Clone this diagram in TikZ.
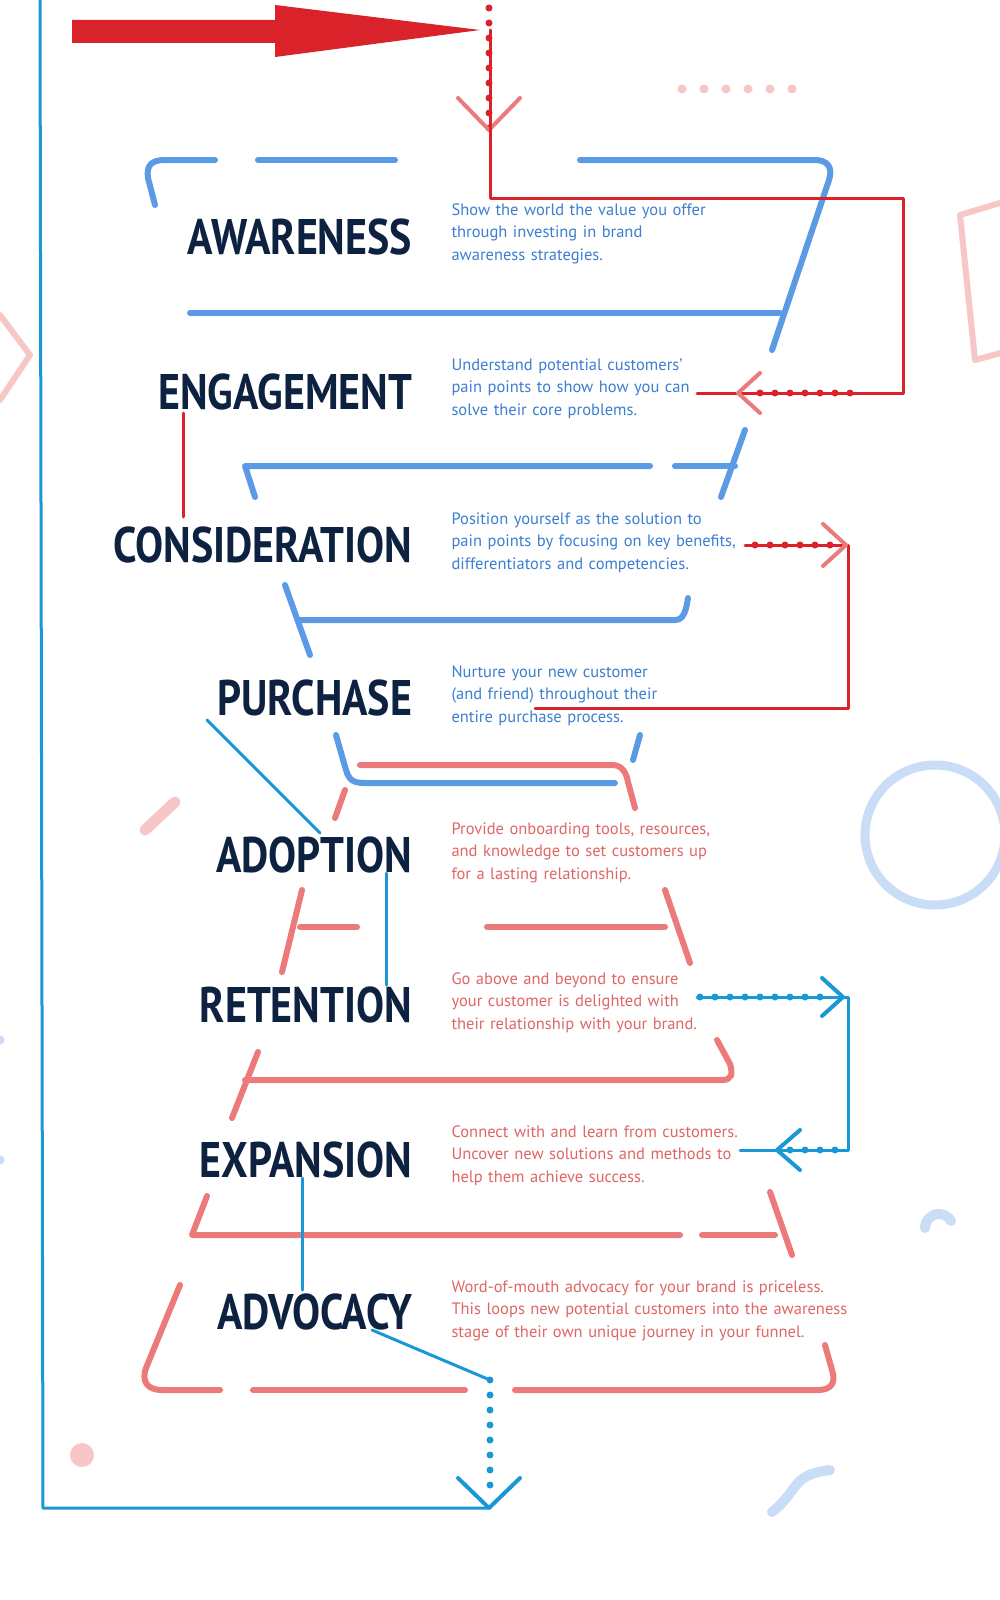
\documentclass[tikz,border=0pt]{standalone}
\usepackage{fontspec}
\setmainfont{PT Sans}
\begin{document}
\begin{tikzpicture}[x=1pt,y=-1pt,line cap=round,line join=round,
 fb/.style={draw=funB,line width=6pt},
 fr/.style={draw=funR,line width=6pt},
 cy/.style={draw=cyanL,line width=3pt},
 rd/.style={draw=redL,line width=3pt},
 dotsc/.style={draw=cyanL,line width=7pt,dash pattern=on 0pt off 15pt},
 dotsr/.style={draw=redL,line width=7pt,dash pattern=on 0pt off 15pt},
 ttl/.style={anchor=east,text=navy,font=\bfseries\fontsize{50}{50}\selectfont,xscale=0.84},
 dsc/.style={anchor=north west,align=left,font=\fontsize{16.5}{22.5}\selectfont,text width=540pt}]
\definecolor{funB}{HTML}{5B9BE6}
\definecolor{funR}{HTML}{EC7A7A}
\definecolor{cyanL}{HTML}{1A98D5}
\definecolor{redL}{HTML}{D9222A}
\definecolor{navy}{HTML}{0D2240}
\definecolor{txB}{HTML}{3C7FD0}
\definecolor{txR}{HTML}{E06666}
\definecolor{pinkD}{HTML}{F7C6C6}
\definecolor{blueD}{HTML}{C9DDF7}
\useasboundingbox[fill=white] (0,0) rectangle (999,1600);
% decorations
\foreach \x in {682,704,726,748,770,792} \fill[pinkD] (\x,89) circle (4.5);
\draw[pinkD,line width=6pt] (960,215) -- (1010,200) -- (1030,345) -- (975,360) -- cycle;
\draw[pinkD,line width=6pt] (0,315) -- (30,355) -- (0,400);
\draw[pinkD,line width=11pt] (145,830) -- (175,802);
\draw[blueD,line width=9pt] (935,835) circle (70);
\draw[blueD,line width=9pt] (0,1040) arc (-90:90:-45 and 60);
\fill[pinkD] (82,1455) circle (12);
\draw[blueD,line width=10pt] (925,1228) arc (180:330:14);
\draw[blueD,line width=10pt] (772,1512) .. controls (800,1490) and (790,1475) .. (830,1470);
% big cyan loop
\coordinate (lt) at (40,0);
\coordinate (lb) at (43,1508);
\coordinate (bb) at (490,1508);
\draw[cy] (lt) -- (lb) -- (bb);
% blue funnel
\draw[fb] (155,205) -- (148,178) .. controls (146,165) and (152,160) .. (165,160) -- (215,160);
\draw[fb] (258,160) -- (395,160);
\draw[fb] (580,160) -- (815,160) .. controls (828,160) and (833,168) .. (829,180) -- (772,350);
\draw[fb] (190,313) -- (780,313);
\draw[fb] (745,430) -- (721,497);
\draw[fb] (255,497) -- (245,466) -- (650,466);
\draw[fb] (675,466) -- (735,466);
\draw[fb] (285,585) -- (310,655);
\draw[fb] (300,620) -- (675,620) .. controls (683,620) and (686,612) .. (688,598);
\draw[fb] (336,735) -- (346,770) .. controls (349,780) and (353,783) .. (365,783) -- (615,783);
\draw[fb] (640,735) -- (633,760);
% red funnel
\draw[fr] (360,765) -- (612,765) .. controls (622,765) and (626,772) .. (628,782) -- (635,808);
\draw[fr] (345,790) -- (335,818);
\draw[fr] (302,890) -- (282,972);
\draw[fr] (300,927) -- (357,927);
\draw[fr] (487,927) -- (665,927);
\draw[fr] (665,890) -- (690,963);
\draw[fr] (232,1118) -- (258,1052);
\draw[fr] (245,1080) -- (722,1080) .. controls (732,1080) and (733,1074) .. (730,1064) -- (717,1040);
\draw[fr] (207,1196) -- (192,1235) -- (680,1235);
\draw[fr] (702,1235) -- (775,1235);
\draw[fr] (770,1192) -- (792,1255);
\draw[fr] (180,1285) -- (146,1368) .. controls (141,1382) and (148,1390) .. (162,1390) -- (220,1390);
\draw[fr] (253,1390) -- (465,1390);
\draw[fr] (515,1390) -- (818,1390) .. controls (832,1390) and (836,1382) .. (832,1370) -- (825,1345);
% titles
\node[ttl] (aw) at (415,237) {AWARENESS};
\node[ttl] (en) at (415,392) {ENGAGEMENT};
\node[ttl] (co) at (415,545) {CONSIDERATION};
\node[ttl] (pu) at (415,698) {PURCHASE};
\node[ttl] (ad) at (415,855) {ADOPTION};
\node[ttl] (re) at (415,1005) {RETENTION};
\node[ttl] (ex) at (415,1160) {EXPANSION};
\node[ttl] (av) at (415,1312) {ADVOCACY};
% descriptions
\node[dsc,text=txB] (d1) at (448,200) {Show the world the value you offer\\through investing in brand\\awareness strategies.};
\node[dsc,text=txB] (d2) at (448,355) {Understand potential customers'\\pain points to show how you can\\solve their core problems.};
\node[dsc,text=txB] (d3) at (448,509) {Position yourself as the solution to\\pain points by focusing on key benefits,\\differentiators and competencies.};
\node[dsc,text=txB] (d4) at (448,662) {Nurture your new customer\\(and friend) throughout their\\entire purchase process.};
\node[dsc,text=txR] (d5) at (448,819) {Provide onboarding tools, resources,\\and knowledge to set customers up\\for a lasting relationship.};
\node[dsc,text=txR] (d6) at (448,969) {Go above and beyond to ensure\\your customer is delighted with\\their relationship with your brand.};
\node[dsc,text=txR] (d7) at (448,1122) {Connect with and learn from customers.\\Uncover new solutions and methods to\\help them achieve success.};
\node[dsc,text=txR] (d8) at (448,1277) {Word-of-mouth advocacy for your brand is priceless.\\This loops new potential customers into the awareness\\stage of their own unique journey in your funnel.};
% red arrow
\fill[redL] (72,20) -- (275,20) -- (275,5) -- (480,30) -- (275,57) -- (275,43) -- (72,43) -- cycle;
\coordinate (r0) at (489,8);
\coordinate (r1) at (489,130);
\draw[dotsr] (r0) -- (r1);
\draw[draw=funR,line width=4pt] (458,98) -- (489,130) -- (520,98);
\coordinate (r2) at (490,30);
\coordinate (r3) at (490,198);
\coordinate (r4) at (903,198);
\coordinate (r5) at (903,393);
\coordinate (r6) at (697,393);
\draw[rd] (r2) -- (r3) -- (r4) -- (r5) -- (r6);
\draw[dotsr] (760,393) -- (850,393);
\draw[draw=funR,line width=4pt] (760,373) -- (738,393) -- (760,413);
\draw[rd] (183,413) -- (183,517);
\coordinate (s0) at (745,545);
\coordinate (s1) at (848,545);
\coordinate (s2) at (848,708);
\coordinate (s3) at (535,708);
\draw[dotsr] (755,545) -- (830,545);
\draw[rd] (s0) -- (s1) -- (s2) -- (s3);
\draw[draw=funR,line width=4pt] (823,524) -- (846,545) -- (823,566);
% cyan lines
\draw[cy] (207,720) -- (320,833);
\draw[cy] (386,873) -- (386,985);
\draw[cy] (302,1178) -- (302,1290);
\coordinate (c0) at (372,1330);
\coordinate (c1) at (490,1380);
\coordinate (c2) at (490,1495);
\draw[cy] (c0) -- (c1);
\draw[dotsc] (c1) -- (c2);
\draw[draw=cyanL,line width=4pt] (458,1478) -- (489,1508) -- (520,1478);
\coordinate (e0) at (697,997);
\coordinate (e1) at (848,997);
\coordinate (e2) at (848,1150);
\coordinate (e3) at (740,1150);
\draw[cy] (e0) -- (e1) -- (e2) -- (e3);
\draw[dotsc] (700,997) -- (830,997);
\draw[dotsc] (790,1150) -- (845,1150);
\draw[draw=cyanL,line width=4pt] (822,978) -- (843,997) -- (822,1016);
\draw[draw=cyanL,line width=4pt] (800,1130) -- (777,1150) -- (800,1170);
\end{tikzpicture}
\end{document}
